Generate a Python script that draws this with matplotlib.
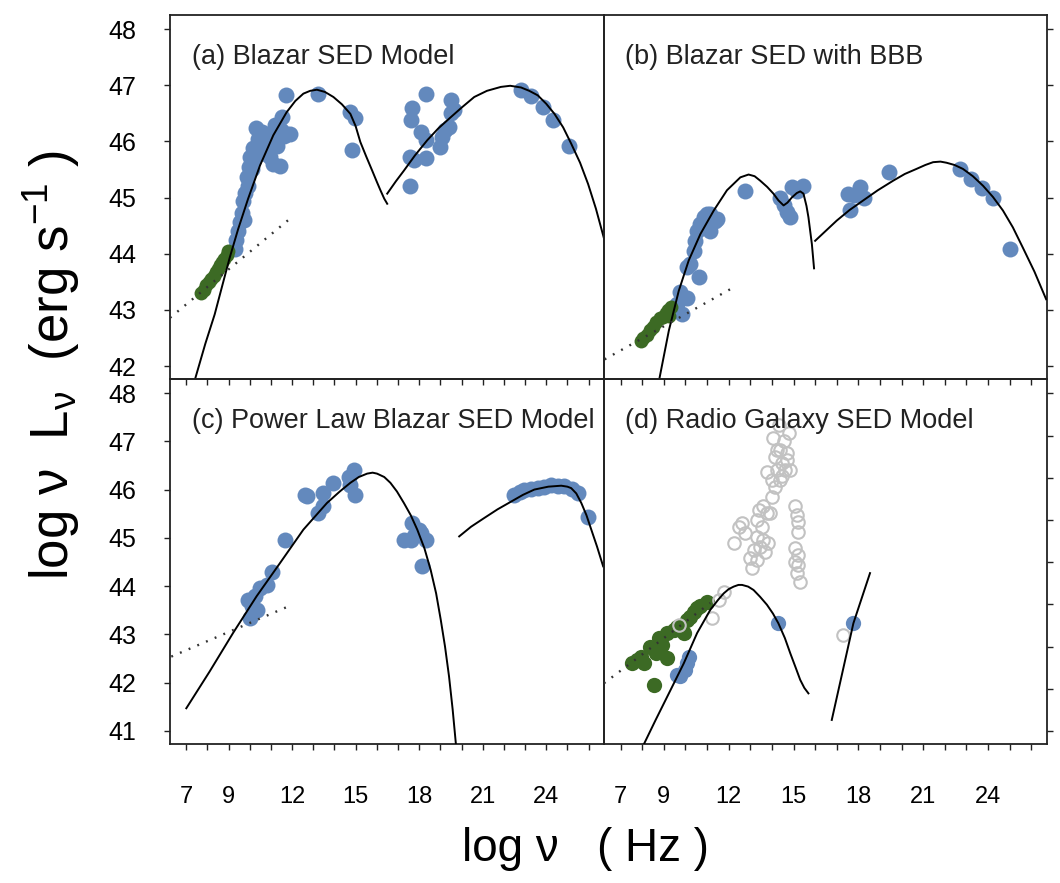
import matplotlib
matplotlib.use("Agg")
import matplotlib.pyplot as plt

plt.rcParams['font.family'] = ['Liberation Sans', 'DejaVu Sans']
plt.rcParams['mathtext.default'] = 'regular'

BLUE = '#6389bd'
GREEN = '#3c6a24'
GREY = '#c2c2c2'

x_ticks = list(range(7, 27))
x_labels = [7, 9, 12, 15, 18, 21, 24]

# ---------------- panel (a) ----------------
a_blue_x = [9.29, 9.35, 9.45, 9.53, 9.62, 9.67, 9.72, 9.78, 9.85, 9.9, 9.95, 10.0, 10.08, 10.15,
            10.22, 10.3, 10.38, 10.45, 10.56, 10.62, 10.75, 10.85, 10.95, 11.05, 11.1, 11.2, 11.3,
            11.43, 11.45, 11.5, 11.6, 11.74, 11.9, 11.71, 13.24, 14.75, 14.98, 14.83,
            17.56, 17.59, 17.75, 17.62, 17.67, 18.34, 18.07, 18.3, 18.3, 19.0, 19.1, 19.2, 19.41,
            19.5, 19.65, 19.49, 22.81, 23.29, 23.84, 24.31, 25.06]
a_blue_y = [44.09, 44.25, 44.4, 44.57, 44.72, 44.93, 44.6, 45.08, 45.36, 45.2, 45.55, 45.72, 45.5,
            45.88, 45.68, 46.23, 46.05, 45.85, 46.17, 45.95, 45.78, 46.1, 45.72, 46.0, 45.6, 46.3,
            45.92, 45.57, 46.2, 46.43, 46.1, 46.14, 46.14, 46.82, 46.84, 46.52, 46.41, 45.85,
            45.21, 45.72, 45.66, 46.38, 46.6, 46.84, 46.17, 46.02, 45.7, 45.9, 46.08, 46.2, 46.26,
            46.5, 46.55, 46.73, 46.91, 46.8, 46.61, 46.38, 45.91]
a_green_x = [7.71, 7.85, 7.95, 8.05, 8.15, 8.3, 8.4, 8.5, 8.6, 8.7, 8.8, 8.9, 8.97]
a_green_y = [43.3, 43.35, 43.45, 43.5, 43.55, 43.6, 43.68, 43.72, 43.8, 43.85, 43.9, 43.98, 44.05]
a_pl_x = [6.23, 11.82]
a_pl_y = [42.86, 44.6]
a_sync_x = [7.40, 7.9, 8.34, 8.74, 9.05, 9.45, 9.92, 10.48, 11.11, 11.74, 12.15, 12.53, 12.85,
            13.17, 13.55, 13.95, 14.35, 14.75, 15.0, 15.22, 15.5, 15.78, 16.0, 16.17, 16.35, 16.49]
a_sync_y = [41.75, 42.4, 42.92, 43.49, 43.93, 44.44, 44.98, 45.57, 46.11, 46.52, 46.72, 46.85,
            46.9, 46.92, 46.88, 46.79, 46.66, 46.49, 46.27, 45.99, 45.73, 45.48, 45.28, 45.13,
            44.98, 44.89]
a_ic_x = [16.49, 16.9, 17.28, 17.8, 18.38, 18.9, 19.49, 20.0, 20.6, 21.2, 21.86, 22.3, 22.81,
          23.2, 23.6, 24.0, 24.39, 24.8, 25.18, 25.6, 25.98, 26.35, 26.76]
a_ic_y = [45.07, 45.29, 45.48, 45.75, 46.02, 46.23, 46.43, 46.6, 46.79, 46.9, 46.97, 46.99,
          46.96, 46.9, 46.82, 46.67, 46.49, 46.25, 45.96, 45.62, 45.24, 44.8, 44.23]

# ---------------- panel (b) ----------------
b_blue_x = [12.77, 14.38, 14.92, 15.46, 14.54, 14.85, 14.7, 15.15, 17.54, 18.08, 18.26, 17.61,
            17.8, 19.43, 22.69, 23.23, 23.74, 24.23, 25.0, 11.0, 11.38, 10.69, 11.15, 10.46,
            10.38, 10.23, 10.61, 10.08, 10.85, 10.54, 11.15, 11.46, 9.77, 10.08, 9.62, 9.85]
b_blue_y = [45.11, 45.0, 45.18, 45.2, 44.86, 44.65, 44.74, 45.12, 45.07, 45.18, 45.0, 44.78,
            45.05, 45.45, 45.51, 45.33, 45.17, 45.0, 44.08, 44.71, 44.59, 44.53, 44.41, 44.23,
            44.05, 43.82, 43.59, 43.76, 44.65, 44.4, 44.71, 44.62, 43.31, 43.22, 43.1, 42.92]
b_green_x = [7.92, 8.05, 8.2, 8.35, 8.5, 8.65, 8.8, 8.95, 9.1, 9.2, 9.31, 9.25]
b_green_y = [42.45, 42.5, 42.55, 42.65, 42.7, 42.78, 42.85, 42.88, 42.95, 43.0, 43.05, 42.9]
b_pl_x = [6.26, 12.08]
b_pl_y = [42.12, 43.37]
b_sync_x = [8.77, 9.23, 9.69, 10.15, 10.69, 11.31, 11.92, 12.54, 12.92, 13.2, 13.46, 13.78,
            14.07, 14.3, 14.54, 14.72, 14.92, 15.15, 15.31, 15.46, 15.6, 15.69, 15.85, 15.95]
b_sync_y = [41.73, 42.63, 43.34, 43.88, 44.35, 44.77, 45.13, 45.36, 45.41, 45.38, 45.3, 45.19,
            45.07, 44.95, 44.86, 44.91, 45.0, 45.08, 45.11, 45.07, 44.85, 44.65, 44.17, 43.74]
b_ic_x = [16.0, 16.5, 17.0, 17.6, 18.23, 18.9, 19.61, 20.15, 20.69, 21.1, 21.46, 21.8, 22.08,
          22.45, 22.84, 23.3, 23.77, 24.23, 24.69, 25.15, 25.61, 26.15, 26.69]
b_ic_y = [44.23, 44.41, 44.59, 44.78, 44.95, 45.13, 45.3, 45.42, 45.51, 45.58, 45.63, 45.64,
          45.62, 45.58, 45.51, 45.38, 45.21, 45.01, 44.77, 44.47, 44.11, 43.68, 43.19]

# ---------------- panel (c) ----------------
c_blue_x = [10.0, 10.08, 10.24, 9.92, 10.48, 10.8, 10.32, 11.03, 11.66, 12.61, 12.7, 13.24,
            13.48, 13.45, 13.95, 14.9, 14.67, 14.98, 14.75, 17.28, 17.67, 17.6, 18.07, 18.3,
            17.98, 18.15, 17.75, 22.5, 22.75, 22.97, 23.3, 23.6, 23.9, 24.23, 24.55, 24.86,
            25.2, 25.5, 25.98]
c_blue_y = [43.34, 43.58, 43.79, 43.72, 43.96, 44.03, 43.51, 44.3, 44.96, 45.89, 45.87, 45.51,
            45.65, 45.93, 46.14, 46.41, 46.27, 45.89, 46.1, 44.96, 45.31, 44.96, 45.1, 44.96,
            45.17, 44.41, 45.03, 45.89, 45.95, 46.0, 46.02, 46.03, 46.05, 46.1, 46.08, 46.07,
            46.02, 45.93, 45.44]
c_pl_x = [6.29, 11.82]
c_pl_y = [42.54, 43.58]
c_sync_x = [7.0, 8.1, 9.21, 10.32, 11.43, 12.53, 13.64, 14.25, 14.75, 15.15, 15.54, 15.8, 16.01,
            16.35, 16.64, 16.95, 17.28, 17.6, 17.91, 18.25, 18.54, 18.8, 19.02, 19.22, 19.41,
            19.58, 19.73]
c_sync_y = [41.47, 42.23, 43.03, 43.79, 44.48, 45.17, 45.72, 45.96, 46.14, 46.26, 46.33, 46.35,
            46.33, 46.26, 46.14, 45.96, 45.72, 45.47, 45.17, 44.78, 44.34, 43.85, 43.3, 42.75,
            42.13, 41.45, 40.75]
c_ic_x = [19.89, 20.45, 21.07, 21.7, 22.34, 22.9, 23.44, 24.1, 24.71, 25.0, 25.18, 25.42, 25.66,
          25.9, 26.13, 26.4, 26.69]
c_ic_y = [45.03, 45.23, 45.41, 45.59, 45.75, 45.89, 46.0, 46.06, 46.08, 46.06, 46.03, 45.92,
          45.72, 45.47, 45.17, 44.82, 44.41]

# ---------------- panel (d) ----------------
d_green_x = [7.54, 7.92, 8.38, 8.77, 9.16, 9.62, 10.08, 10.38, 10.69, 11.0, 9.92, 8.08, 8.62,
             9.16, 8.54, 9.46, 10.23, 10.54, 7.77, 8.92, 9.77]
d_green_y = [42.6, 42.76, 43.0, 43.2, 43.32, 43.47, 43.63, 43.83, 43.95, 44.06, 43.32, 42.6,
             42.84, 42.72, 42.09, 43.39, 43.71, 43.91, 42.68, 43.04, 43.47]
d_blue_x = [9.77, 10.08, 10.0, 10.15, 9.62, 14.3, 17.77]
d_blue_y = [42.29, 42.6, 42.45, 42.76, 42.33, 43.55, 43.55]
d_grey_x = [14.31, 14.07, 14.77, 14.38, 14.69, 14.15, 14.46, 14.23, 13.77, 14.61, 14.38, 14.15,
            14.0, 13.61, 13.77, 13.38, 13.92, 13.31, 13.54, 12.62, 12.46, 12.77, 12.23, 13.31,
            13.61, 13.84, 13.15, 13.46, 13.69, 13.0, 13.31, 13.08, 15.08, 15.15, 15.23, 15.23,
            15.08, 15.23, 15.08, 15.23, 15.15, 15.31, 11.77, 11.54, 11.23, 9.69, 17.3,
            14.54, 14.69, 14.46, 14.23, 14.0, 14.85]
d_grey_y = [48.25, 47.94, 48.05, 47.66, 47.58, 47.5, 47.34, 47.18, 47.14, 47.18, 46.95, 46.79,
            46.55, 46.32, 46.16, 46.24, 46.16, 46.0, 45.84, 45.92, 45.84, 45.68, 45.45, 45.6,
            45.53, 45.45, 45.29, 45.37, 45.25, 45.09, 45.05, 44.86, 46.32, 46.12, 45.96, 45.72,
            45.33, 45.17, 45.01, 44.93, 44.74, 44.54, 44.3, 44.1, 43.67, 43.51, 43.27,
            47.86, 47.42, 47.03, 47.66, 46.95, 47.18]
d_pl_x = [6.23, 11.15]
d_pl_y = [42.13, 44.03]
d_sync_x = [8.08, 8.62, 9.31, 9.92, 10.54, 11.15, 11.5, 11.77, 12.0, 12.23, 12.45, 12.62, 12.9,
            13.15, 13.45, 13.77, 14.05, 14.3, 14.6, 14.85, 15.1, 15.31, 15.5, 15.69]
d_sync_y = [40.69, 41.26, 41.97, 42.6, 43.32, 43.87, 44.1, 44.26, 44.36, 44.42, 44.46, 44.46,
            44.42, 44.34, 44.18, 43.99, 43.78, 43.55, 43.2, 42.84, 42.5, 42.21, 42.02, 41.89]
d_ic_x = [16.77, 17.77, 18.54]
d_ic_y = [41.26, 43.55, 44.74]

W, H = 1060, 883
fig = plt.figure(figsize=(W / 100, H / 100), dpi=100)


def box(x0, x1, y0, y1):
    return [x0 / W, 1 - y1 / H, (x1 - x0) / W, (y1 - y0) / H]


ax_a = fig.add_axes(box(170, 604, 15, 379), facecolor='none')
ax_b = fig.add_axes(box(604, 1047, 15, 379), facecolor='none')
ax_c = fig.add_axes(box(170, 604, 379, 744), facecolor='none')
ax_d = fig.add_axes(box(604, 1047, 379, 744), facecolor='none')


def style(ax, ylim, yticks, left, bottom):
    ax.set_xlim(6.23, 26.73)
    ax.set_ylim(*ylim)
    ax.set_xticks(x_ticks)
    if bottom:
        ax.set_xticklabels([str(t) if t in x_labels else '' for t in x_ticks])
    else:
        ax.set_xticklabels([])
    ax.set_yticks(yticks)
    if left:
        ax.yaxis.tick_left()
        ax.set_yticklabels([str(t) for t in yticks])
    else:
        ax.yaxis.tick_right()
        ax.set_yticklabels([])
    ax.tick_params(axis='both', direction='out', length=4, width=1, color='#222222')
    ax.tick_params(axis='x', labelsize=17, pad=26)
    ax.tick_params(axis='y', labelsize=18, pad=20)
    for s in ax.spines.values():
        s.set_linewidth(1.3)
        s.set_color('#222222')


def model(ax, sx, sy, ix, iy, px, py):
    ax.plot(sx, sy, color='black', lw=1.4, zorder=5)
    ax.plot(ix, iy, color='black', lw=1.4, zorder=5)
    ax.plot(px, py, color='#333333', lw=1.7, ls=(0, (0.8, 3.2)), zorder=5)


ax_a.plot(a_blue_x, a_blue_y, 'o', color=BLUE, ms=11.5, mec='none', zorder=2)
ax_a.plot(a_green_x, a_green_y, 'o', color=GREEN, ms=10, mec='none', zorder=3)
model(ax_a, a_sync_x, a_sync_y, a_ic_x, a_ic_y, a_pl_x, a_pl_y)
style(ax_a, (41.77, 48.25), range(42, 49), True, False)

ax_b.plot(b_blue_x, b_blue_y, 'o', color=BLUE, ms=11.5, mec='none', zorder=2)
ax_b.plot(b_green_x, b_green_y, 'o', color=GREEN, ms=10, mec='none', zorder=3)
model(ax_b, b_sync_x, b_sync_y, b_ic_x, b_ic_y, b_pl_x, b_pl_y)
style(ax_b, (41.77, 48.25), range(42, 49), False, False)

ax_c.plot(c_blue_x, c_blue_y, 'o', color=BLUE, ms=11.5, mec='none', zorder=2)
model(ax_c, c_sync_x, c_sync_y, c_ic_x, c_ic_y, c_pl_x, c_pl_y)
style(ax_c, (40.73, 48.29), range(41, 49), True, True)

ax_d.plot(d_blue_x, d_blue_y, 'o', color=BLUE, ms=11, mec='none', zorder=2)
ax_d.plot(d_green_x, d_green_y, 'o', color=GREEN, ms=11, mec='none', zorder=3)
ax_d.plot(d_grey_x, d_grey_y, 'o', mfc='none', mec=GREY, ms=9, mew=1.5, zorder=4)
model(ax_d, d_sync_x, d_sync_y, d_ic_x, d_ic_y, d_pl_x, d_pl_y)
style(ax_d, (40.69, 49.34), range(41, 50), False, True)

titles = ['(a) Blazar SED Model', '(b) Blazar SED with BBB',
          '(c) Power Law Blazar SED Model', '(d) Radio Galaxy SED Model']
for ax, t, x0 in zip([ax_a, ax_b, ax_c, ax_d], titles, [0.051, 0.047, 0.051, 0.047]):
    ax.text(x0, 0.865, t, transform=ax.transAxes, fontsize=19.5, va='baseline', ha='left',
            color='#222222', zorder=10)

fig.text(52 / W, 1 - 365 / H, r'log ν  L$_ν$  (erg s$^{-1}$ )', rotation=90,
         ha='center', va='center', fontsize=38)
fig.text(585 / W, 1 - 861 / H, 'log ν   ( Hz )', ha='center', va='baseline', fontsize=33)

fig.savefig('out.png', dpi=100)
